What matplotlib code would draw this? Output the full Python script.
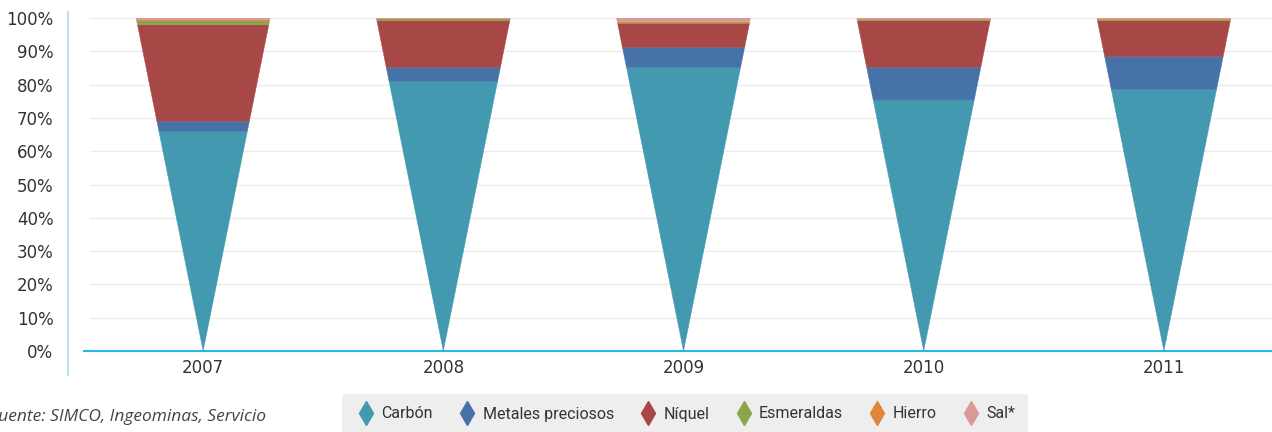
import matplotlib
matplotlib.use("Agg")
import matplotlib.pyplot as plt
from matplotlib.lines import Line2D
import numpy as np

years = ["2007", "2008", "2009", "2010", "2011"]
series_names = ["Carbón", "Metales preciosos", "Níquel", "Esmeraldas", "Hierro", "Sal*"]
carbon = [66.0, 80.9, 85.2, 75.4, 78.6]
metales = [3.0, 4.3, 6.0, 9.8, 9.8]
niquel = [29.0, 14.0, 7.2, 14.0, 10.8]
esmeraldas = [1.2, 0.5, 0.2, 0.3, 0.4]
hierro = [0.2, 0.1, 0.3, 0.1, 0.1]
sal = [0.6, 0.2, 1.1, 0.4, 0.3]
colors = ["#4299b0", "#4672a8", "#a84846", "#8aa54c", "#e0853a", "#d99a97"]
yticks = [0, 10, 20, 30, 40, 50, 60, 70, 80, 90, 100]

series = [carbon, metales, niquel, esmeraldas, hierro, sal]

fig = plt.figure(figsize=(12.72, 4.32), dpi=100)
ax = fig.add_axes([84 / 1272, 1 - 351 / 432, 1 - 84 / 1272, 333 / 432])
ax.set_xlim(-0.496, 4.45)
ax.set_ylim(0, 100)

halfw = 0.279 / 100.0
for i in range(len(years)):
    vals = np.array([s[i] for s in series], dtype=float)
    vals = vals / vals.sum() * 100.0
    bottom = 0.0
    for v, c in zip(vals, colors):
        top = bottom + v
        xs = [i - halfw * bottom, i + halfw * bottom, i + halfw * top, i - halfw * top]
        ys = [bottom, bottom, top, top]
        ax.fill(xs, ys, color=c, lw=0.3, ec=c, zorder=3)
        bottom = top

for t in yticks[1:]:
    ax.axhline(t, color="#ececec", lw=1.0, zorder=1, xmin=0.005)

ax.set_yticks(yticks)
ax.set_yticklabels([f"{t}%" for t in yticks])
ax.set_xticks(range(len(years)))
ax.set_xticklabels(years)
ax.tick_params(axis="both", length=0, labelsize=12, colors="#333333")
ax.tick_params(axis="y", pad=22)
ax.tick_params(axis="x", pad=6)
for sp in ["top", "right", "left"]:
    ax.spines[sp].set_visible(False)
ax.spines["bottom"].set_color("#29b6e8")
ax.spines["bottom"].set_linewidth(1.5)

# vertical light-blue line at left
fig.add_artist(Line2D([68 / 1272, 68 / 1272], [1 - 375 / 432, 1 - 12 / 432],
                      color="#a9def5", lw=1.2, transform=fig.transFigure))

# source text (clipped at left edge, as in the reference)
fig.text(-0.008, 1 - 417 / 432, "Fuente: SIMCO, Ingeominas, Servicio", fontsize=12.5,
         style="italic", color="#444444", va="center", ha="left", family="Open Sans")

handles = [Line2D([], [], marker="d", linestyle="none", markersize=12, color=c,
                  markeredgecolor=c) for c in colors]
leg = fig.legend(handles, series_names, loc="center", ncol=6,
                 bbox_to_anchor=(685 / 1272, 1 - 414 / 432), frameon=True,
                 fancybox=True, handletextpad=0.25, columnspacing=1.45,
                 handlelength=1.4, borderpad=0.8,
                 prop={"family": "Roboto", "size": 11.5})
leg.get_frame().set_facecolor("#eeeeee")
leg.get_frame().set_edgecolor("none")
leg.get_frame().set_alpha(1)
for t in leg.get_texts():
    t.set_color("#333333")

fig.savefig("out.png", dpi=100)
